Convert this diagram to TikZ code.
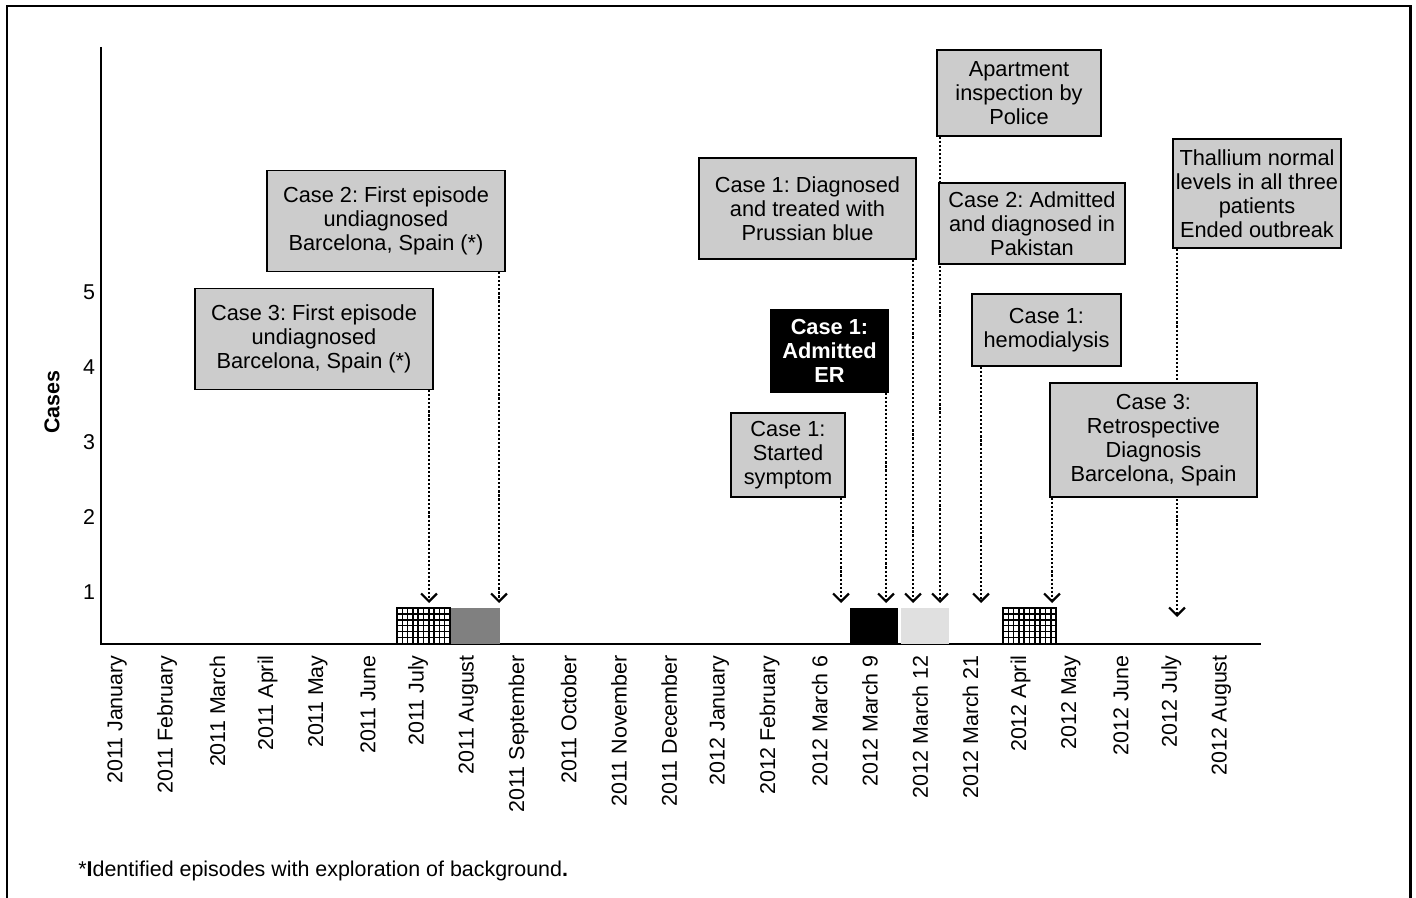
\documentclass[tikz,border=0pt]{standalone}
\usepackage{fontspec}
\setmainfont{Liberation Sans}
\usetikzlibrary{arrows.meta,positioning,backgrounds}
\definecolor{boxgray}{gray}{0.8}
\definecolor{bargray}{gray}{0.5}
\definecolor{barlight}{gray}{0.88}
\frenchspacing

\begin{document}
\begin{tikzpicture}[x=0.02cm,y=-0.02cm,
  box/.style={draw,line width=0.8pt,fill=boxgray,inner sep=0pt,align=center,font=\fontsize{12.4}{13.7}\selectfont},
  lab/.style={inner sep=0pt,font=\fontsize{12.2}{14}\selectfont},
  arr/.style={dash pattern=on 1.2pt off 1.1pt,line width=1.3pt,-{Straight Barb[length=4.5pt,width=9pt,line width=1.3pt]}}]
	\useasboundingbox (0,0) rectangle (1416,898);
	\draw[line width=1.7pt] (7,900) -- (7,6) -- (1410,6) -- (1410,900);
	\draw[line width=1.2pt] (101,47) -- (101,644) -- (1261,644);
	\foreach \v/\y in {5/292,4/367,3/442,2/517,1/592}
		\node[lab] (y\v) at (89,\y) {\v};
	\node[lab,font=\fontsize{12.2}{14}\selectfont\bfseries,rotate=90] (yl) at (52,402) {Cases};
	\foreach \m [count=\i from 0] in {2011 January,2011 February,2011 March,2011 April,2011 May,2011 June,2011 July,2011 August,2011 September,2011 October,2011 November,2011 December,2012 January,2012 February,2012 March 6,2012 March 9,2012 March 12,2012 March 21,2012 April,2012 May,2012 June,2012 July,2012 August}
		\node[lab,rotate=90,anchor=east] (m\i) at (117+50.2*\i,655) {\m};
	\foreach \a/\b in {397/450,1003/1056}{
		\fill[white] (\a,608) rectangle (\b,644);
		\begin{scope}
			\clip (\a,608) rectangle (\b,644);
			\foreach \k in {0,...,10}
				\draw[line width=0.9pt] (\a+\k*5.3,608) -- (\a+\k*5.3,644);
			\foreach \k in {0,...,7}
				\draw[line width=0.9pt] (\a,608+\k*5.9) -- (\b,608+\k*5.9);
		\end{scope}
		\draw[line width=0.9pt] (\a,608) rectangle (\b,644);
	}
	\fill[bargray] (451,608) rectangle (500,644);
	\fill[black] (850,608) rectangle (898,644);
	\fill[barlight] (901,608) rectangle (949,644);
	\node[box,minimum width=4.76cm,minimum height=2.02cm] (A) at (386,221) {Case 2: First episode\\undiagnosed\\Barcelona, Spain (*)};
	\node[box,minimum width=4.76cm,minimum height=2.02cm] (B) at (314,339) {Case 3: First episode\\undiagnosed\\Barcelona, Spain (*)};
	\node[box,minimum width=4.34cm,minimum height=2.02cm] (C) at (807.5,208.5) {Case 1: Diagnosed\\and treated with\\Prussian blue};
	\node[box,minimum width=3.28cm,minimum height=1.72cm] (D) at (1019,93) {Apartment\\inspection by\\Police};
	\node[box,minimum width=3.72cm,minimum height=1.62cm] (E) at (1032,223.5) {Case 2: Admitted\\and diagnosed in\\Pakistan};
	\node[box,minimum width=3.36cm,minimum height=2.18cm] (F) at (1257,193.5) {Thallium normal\\levels in all three\\patients\\Ended outbreak};
	\node[box,fill=black,text=white,font=\fontsize{12.4}{13.7}\selectfont\bfseries,minimum width=2.34cm,minimum height=1.64cm] (G) at (829.5,351) {Case 1:\\Admitted\\ER};
	\node[box,minimum width=2.98cm,minimum height=1.44cm] (H) at (1046.5,330) {Case 1:\\hemodialysis};
	\node[box,minimum width=2.28cm,minimum height=1.68cm] (I) at (788,455) {Case 1:\\Started\\symptom};
	\node[box,minimum width=4.14cm,minimum height=2.28cm] (J) at (1153.5,440) {Case 3:\\Retrospective\\Diagnosis\\Barcelona, Spain};
	\coordinate (e1) at (429,603);
	\coordinate (e2) at (499,603);
	\coordinate (e3) at (841,603);
	\coordinate (e4) at (886,603);
	\coordinate (e5) at (913,603);
	\coordinate (e6) at (940,603);
	\coordinate (e7) at (981,603);
	\coordinate (e8) at (1052,603);
	\coordinate (e9) at (1177,617);
	\begin{scope}[on background layer]
		\draw[arr] (B.south -| e1) -- (e1);
		\draw[arr] (A.south -| e2) -- (e2);
		\draw[arr] (I.south -| e3) -- (e3);
		\draw[arr] (G.south -| e4) -- (e4);
		\draw[arr] (C.south -| e5) -- (e5);
		\draw[arr] (D.south -| e6) -- (e6);
		\draw[arr] (H.south -| e7) -- (e7);
		\draw[arr] (J.south -| e8) -- (e8);
		\draw[arr] (F.south -| e9) -- (e9);
	\end{scope}
	\node[lab,anchor=west] (fn) at (78,871) {*\textbf{I}dentified episodes with exploration of background\textbf{.}};
\end{tikzpicture}
\end{document}
